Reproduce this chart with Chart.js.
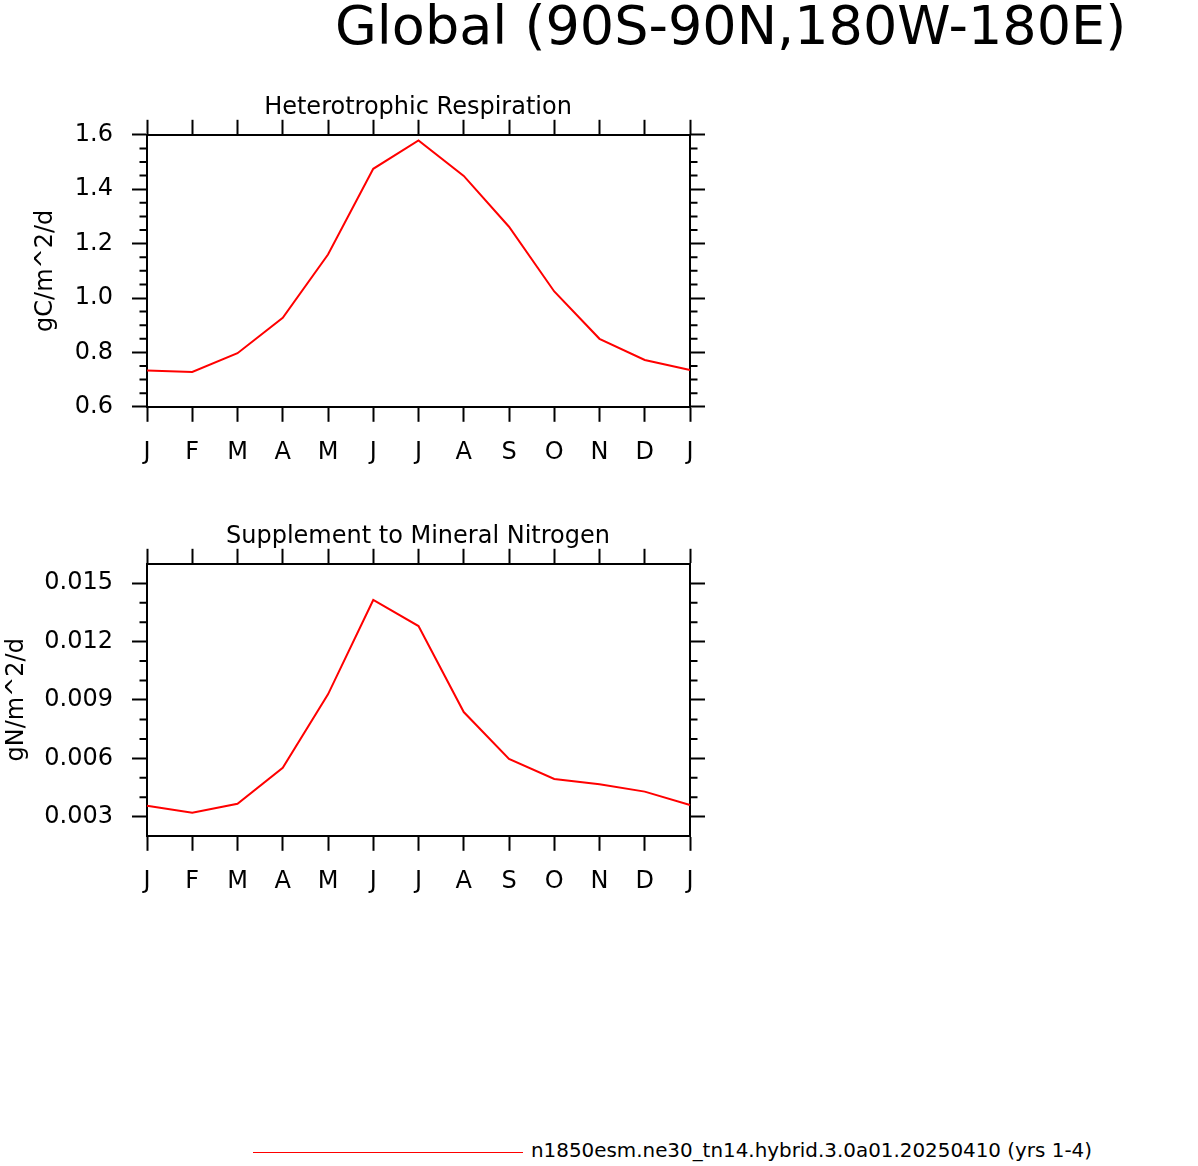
<!DOCTYPE html>
<html>
<head>
<meta charset="utf-8">
<script src="https://cdn.jsdelivr.net/npm/chart.js@4.4.1/dist/chart.umd.min.js"></script>
<style>
    body { margin: 0; background: #fff; width: 1198px; height: 1166px; position: relative; overflow: hidden; font-family: "DejaVu Sans", sans-serif; color: #000; }
    #mainTitle { position: absolute; left: 335px; top: -1px; font-size: 54px; line-height: 54px; white-space: nowrap; }
    .plot { position: absolute; left: 0; }
    #chartResp { top: 85.2px; }
    #chartNitro { top: 514.2px; }
    #legend { position: absolute; left: 253px; top: 1139px; height: 24px; font-size: 19.9px; line-height: 24px; white-space: nowrap; }
    #legend .swatch { position: absolute; left: 0; top: 12.5px; width: 270px; height: 1px; background: #ff0000; }
    #legend .label { position: absolute; left: 278px; top: 0; }
</style>
</head>
<body>
<div id="mainTitle">Global (90S-90N,180W-180E)</div>
<canvas id="chartResp" class="plot" width="836" height="400"></canvas>
<canvas id="chartNitro" class="plot" width="836" height="400"></canvas>
<div id="legend"><div class="swatch"></div><div class="label">n1850esm.ne30_tn14.hybrid.3.0a01.20250410 (yrs 1-4)</div></div>

<script>
// month letters, Jan repeated at the end
var months = ["J", "F", "M", "A", "M", "J", "J", "A", "S", "O", "N", "D", "J"];

// heterotrophic respiration, gC/m^2/d
var respValues = [0.733, 0.728, 0.797, 0.927, 1.160, 1.475, 1.579, 1.449, 1.262, 1.024, 0.850, 0.772, 0.735];
var respRange = [0.6, 1.6];
var respTicks = [0.6, 0.8, 1.0, 1.2, 1.4, 1.6];
var respMinor = [0.65, 0.7, 0.75, 0.85, 0.9, 0.95, 1.05, 1.1, 1.15, 1.25, 1.3, 1.35, 1.45, 1.5, 1.55];

// supplement to mineral nitrogen, gN/m^2/d
var nitroValues = [0.00357, 0.00321, 0.00367, 0.00551, 0.00929, 0.01414, 0.01280, 0.00838, 0.00597, 0.00494, 0.00467, 0.00429, 0.00360];
var nitroRange = [0.00202, 0.016];
var nitroTicks = [0.003, 0.006, 0.009, 0.012, 0.015];
var nitroMinor = [0.004, 0.005, 0.007, 0.008, 0.010, 0.011, 0.013, 0.014];

Chart.defaults.font.family = "'DejaVu Sans', sans-serif";
Chart.defaults.color = "#000";

// short ticks between the labelled ones, on both sides of the box
var minorTicks = {
    id: "minorTicks",
    afterDraw: function (chart, args, opts) {
        var ctx = chart.ctx;
        var area = chart.chartArea;
        var y = chart.scales.y;
        ctx.save();
        ctx.strokeStyle = "#000";
        ctx.lineWidth = 2;
        ctx.beginPath();
        opts.values.forEach(function (v) {
            var py = y.getPixelForValue(v);
            ctx.moveTo(area.left - 7.5, py);
            ctx.lineTo(area.left, py);
            ctx.moveTo(area.right, py);
            ctx.lineTo(area.right + 7.5, py);
        });
        ctx.stroke();
        ctx.restore();
    }
};

var edge = { display: true, color: "#000", width: 2 };
var tickGrid = { drawOnChartArea: false, drawTicks: true, tickLength: 15, tickWidth: 2, tickColor: "#000" };

function panel(canvas, title, values, range, ticks, minor, yTitle, yTitlePad, digits) {
    new Chart(canvas, {
        type: "line",
        plugins: [minorTicks],
        data: {
            labels: months,
            datasets: [{
                data: values,
                borderColor: "#ff0000",
                borderWidth: 2,
                pointRadius: 0,
                tension: 0,
                fill: false
            }]
        },
        options: {
            responsive: false,
            animation: false,
            layout: { padding: 0 },
            plugins: {
                legend: { display: false },
                tooltip: { enabled: false },
                title: {
                    display: true,
                    text: title,
                    font: { size: 24, weight: "normal", lineHeight: 1.2 },
                    padding: { top: 8, bottom: 0 },
                    color: "#000"
                },
                minorTicks: { values: minor }
            },
            scales: {
                x: {
                    type: "category",
                    position: "bottom",
                    border: edge,
                    grid: tickGrid,
                    ticks: { font: { size: 24 }, padding: 17, maxRotation: 0, autoSkip: false },
                    afterFit: function (s) { s.height = 78.2; }
                },
                x2: {
                    type: "category",
                    position: "top",
                    border: edge,
                    grid: tickGrid,
                    ticks: { display: false, autoSkip: false },
                    afterFit: function (s) { s.height = 13; }
                },
                y: {
                    type: "linear",
                    position: "left",
                    min: range[0],
                    max: range[1],
                    border: edge,
                    grid: tickGrid,
                    afterBuildTicks: function (s) { s.ticks = ticks.map(function (v) { return { value: v }; }); },
                    ticks: {
                        font: { size: 24 },
                        padding: 19,
                        callback: function (v) { return Number(v).toFixed(digits); }
                    },
                    title: {
                        display: true,
                        text: yTitle,
                        font: { size: 24, lineHeight: 1.2 },
                        padding: { top: yTitlePad, bottom: 0 }
                    },
                    afterFit: function (s) { s.width = 147; }
                },
                y2: {
                    type: "linear",
                    position: "right",
                    min: range[0],
                    max: range[1],
                    border: edge,
                    grid: tickGrid,
                    afterBuildTicks: function (s) { s.ticks = ticks.map(function (v) { return { value: v }; }); },
                    ticks: { display: false },
                    // as wide as the left axis, so the title is centred over the box
                    afterFit: function (s) { s.width = 146; }
                }
            }
        }
    });
}

panel(document.getElementById("chartResp"), "Heterotrophic Respiration",
      respValues, respRange, respTicks, respMinor, "gC/m^2/d", 31.6, 1);

panel(document.getElementById("chartNitro"), "Supplement to Mineral Nitrogen",
      nitroValues, nitroRange, nitroTicks, nitroMinor, "gN/m^2/d", 2.6, 3);
</script>
</body>
</html>
